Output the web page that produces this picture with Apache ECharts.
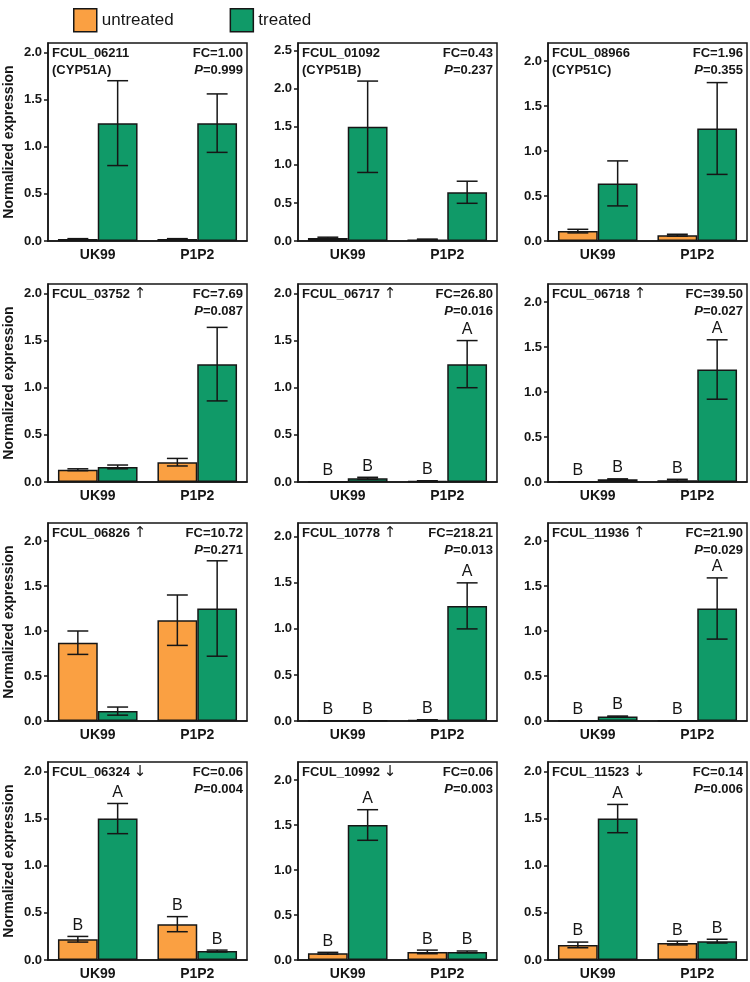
<!DOCTYPE html>
<html>
<head>
<meta charset="utf-8">
<script src="https://cdn.jsdelivr.net/npm/echarts@6/dist/echarts.min.js"></script>
<style>
html,body{margin:0;padding:0;background:#fff;}
#chart{width:750px;height:982px;}
</style>
</head>
<body>
<div id="chart"></div>
<script>
// ---------------- data ----------------
const categories = ['UK99', 'P1P2'];
const genes = ['FCUL_06211', 'FCUL_01092', 'FCUL_08966',
  'FCUL_03752', 'FCUL_06717', 'FCUL_06718',
  'FCUL_06826', 'FCUL_10778', 'FCUL_11936',
  'FCUL_06324', 'FCUL_10992', 'FCUL_11523'];
const geneArrows = ['', '', '', '\u2191', '\u2191', '\u2191', '\u2191', '\u2191', '\u2191', '\u2193', '\u2193', '\u2193'];
const geneNotes = ['(CYP51A)', '(CYP51B)', '(CYP51C)', '', '', '', '', '', '', '', '', ''];
const fcValues = ['1.00', '0.43', '1.96', '7.69', '26.80', '39.50', '10.72', '218.21', '21.90', '0.06', '0.06', '0.14'];
const pValues = ['0.999', '0.237', '0.355', '0.087', '0.016', '0.027', '0.271', '0.013', '0.029', '0.004', '0.003', '0.006'];
// [UK99, P1P2]
const untreatedMean = [[0.02, 0.02], [0.04, 0.02], [0.11, 0.065], [0.13, 0.21], [0.003, 0.01], [0.005, 0.02],
  [0.87, 1.12], [0.003, 0.01], [0.003, 0.004], [0.22, 0.38], [0.075, 0.09], [0.16, 0.18]];
const untreatedErr = [[0.005, 0.005], [0.01, 0.005], [0.02, 0.01], [0.01, 0.04], [0, 0.003], [0, 0.01],
  [0.13, 0.28], [0, 0.003], [0, 0], [0.03, 0.08], [0.01, 0.02], [0.03, 0.02]];
const treatedMean = [[1.25, 1.25], [1.5, 0.64], [0.64, 1.25], [0.16, 1.25], [0.04, 1.25], [0.03, 1.25],
  [0.11, 1.25], [0.004, 1.25], [0.05, 1.25], [1.5, 0.095], [1.5, 0.09], [1.5, 0.2]];
const treatedErr = [[0.45, 0.31], [0.6, 0.145], [0.25, 0.51], [0.02, 0.39], [0.01, 0.25], [0.005, 0.33],
  [0.045, 0.53], [0, 0.25], [0.005, 0.34], [0.16, 0.01], [0.17, 0.01], [0.15, 0.02]];
const untreatedLetters = [['', ''], ['', ''], ['', ''], ['', ''], ['B', 'B'], ['B', 'B'],
  ['', ''], ['B', 'B'], ['B', 'B'], ['B', 'B'], ['B', 'B'], ['B', 'B']];
const treatedLetters = [['', ''], ['', ''], ['', ''], ['', ''], ['B', 'A'], ['B', 'A'],
  ['', ''], ['B', 'A'], ['B', 'A'], ['A', 'B'], ['A', 'B'], ['A', 'B']];
const yMax = [2.1, 2.6, 2.2, 2.1, 2.1, 2.2, 2.2, 2.15, 2.2, 2.1, 2.2, 2.1];
const yTicksStd = [0, 0.5, 1.0, 1.5, 2.0];
const yTicksWide = [0, 0.5, 1.0, 1.5, 2.0, 2.5];
const yTicks = [yTicksStd, yTicksWide, yTicksStd, yTicksStd, yTicksStd, yTicksStd,
  yTicksStd, yTicksStd, yTicksStd, yTicksStd, yTicksStd, yTicksStd];
const yAxisTitle = 'Normalized expression';
const seriesNames = ['untreated', 'treated'];

// ---------------- layout / style ----------------
const ORANGE = '#FAA042';
const GREEN = '#109A68';
const INK = '#161616';
const FONT = '"Liberation Sans", Arial, Helvetica, sans-serif';
const colLeft = [48, 298, 548];
const rowTop = [43, 284, 523, 762];
const GW = 199, GH = 198;

const grids = [], xAxes = [], yAxes = [], series = [], graphics = [];

for (let p = 0; p < 12; p++) {
  const col = p % 3, row = Math.floor(p / 3);
  const L = colLeft[col], T = rowTop[row];
  grids.push({
    left: L, top: T, width: GW, height: GH,
    show: true, borderColor: INK, borderWidth: 1.5, backgroundColor: 'transparent'
  });
  xAxes.push({
    type: 'category', gridIndex: p, data: categories,
    axisLine: { show: true, lineStyle: { color: INK, width: 1.5 } },
    axisTick: { show: false },
    axisLabel: { color: INK, fontWeight: 'bold', fontSize: 14, fontFamily: FONT, margin: 7 },
    splitLine: { show: false }
  });
  yAxes.push({
    type: 'value', gridIndex: p, min: 0, max: yMax[p], interval: 0.5,
    name: col === 0 ? yAxisTitle : '',
    nameLocation: 'middle', nameGap: 32,
    nameTextStyle: { color: INK, fontWeight: 'bold', fontSize: 14, fontFamily: FONT },
    axisLine: { show: true, lineStyle: { color: INK, width: 1.5 } },
    axisTick: { show: true, inside: false, length: 4, lineStyle: { color: INK, width: 1.5 }, customValues: yTicks[p] },
    axisLabel: { color: INK, fontWeight: 'bold', fontSize: 13, fontFamily: FONT, margin: 6,
      customValues: yTicks[p], formatter: v => v.toFixed(1) },
    splitLine: { show: false }
  });
  const barStyle = (c) => ({ color: c, borderColor: INK, borderWidth: 1.5 });
  series.push({
    type: 'bar', name: seriesNames[0], xAxisIndex: p, yAxisIndex: p,
    data: untreatedMean[p], barGap: '0%', barCategoryGap: '20%',
    itemStyle: barStyle(ORANGE), emphasis: { disabled: true }, animation: false
  });
  series.push({
    type: 'bar', name: seriesNames[1], xAxisIndex: p, yAxisIndex: p,
    data: treatedMean[p], barGap: '0%', barCategoryGap: '20%',
    itemStyle: barStyle(GREEN), emphasis: { disabled: true }, animation: false
  });
  // error bars + letters
  const errData = [];
  for (let c = 0; c < 2; c++) {
    errData.push([c, untreatedMean[p][c], untreatedErr[p][c], 0, untreatedLetters[p][c]]);
    errData.push([c, treatedMean[p][c], treatedErr[p][c], 1, treatedLetters[p][c]]);
  }
  series.push({
    type: 'custom', xAxisIndex: p, yAxisIndex: p, z: 5, animation: false, silent: true,
    encode: { x: 0, y: 1 },
    data: errData,
    renderItem: function (params, api) {
      const d = errData[params.dataIndex];
      const cat = d[0], mean = d[1], err = d[2], grp = d[3], letter = d[4];
      const bandW = api.size([1, 0])[0];
      const c = api.coord([cat, mean]);
      const x = c[0] + (grp === 0 ? -0.2 : 0.2) * bandW;
      const cap = 0.105 * bandW;
      const children = [];
      let topY = c[1];
      if (err > 0) {
        const yTop = api.coord([cat, mean + err])[1];
        const yBot = api.coord([cat, Math.max(0, mean - err)])[1];
        topY = yTop;
        const ls = { stroke: INK, lineWidth: 1.5 };
        children.push({ type: 'line', shape: { x1: x, y1: yTop, x2: x, y2: yBot }, style: ls });
        children.push({ type: 'line', shape: { x1: x - cap, y1: yTop, x2: x + cap, y2: yTop }, style: ls });
        children.push({ type: 'line', shape: { x1: x - cap, y1: yBot, x2: x + cap, y2: yBot }, style: ls });
      }
      if (letter) {
        children.push({
          type: 'text',
          style: { text: letter, x: x, y: topY - 3, textAlign: 'center', align: 'center',
            textVerticalAlign: 'bottom', verticalAlign: 'bottom',
            font: '16px ' + FONT, fill: INK }
        });
      }
      return { type: 'group', children: children };
    }
  });
  // panel annotations
  const hFont = 'bold 13px ' + FONT;
  const geneText = geneArrows[p] ? genes[p] + ' {a|' + geneArrows[p] + '}' : genes[p];
  graphics.push({ type: 'text', x: L + 4, y: T + 10, silent: true,
    style: { text: geneText, font: hFont, fill: INK, textAlign: 'left', textVerticalAlign: 'middle', verticalAlign: 'middle',
      rich: { a: { fontFamily: '"DejaVu Sans", sans-serif', fontSize: 15, fontWeight: 'normal', fill: INK, color: INK } } } });
  if (geneNotes[p]) {
    graphics.push({ type: 'text', x: L + 4, y: T + 27, silent: true,
      style: { text: geneNotes[p], font: hFont, fill: INK, textAlign: 'left', textVerticalAlign: 'middle', verticalAlign: 'middle' } });
  }
  graphics.push({ type: 'text', x: L + GW - 4, y: T + 10, silent: true,
    style: { text: 'FC=' + fcValues[p], font: hFont, fill: INK, textAlign: 'right', align: 'right', textVerticalAlign: 'middle', verticalAlign: 'middle' } });
  graphics.push({ type: 'text', x: L + GW - 4, y: T + 27, silent: true,
    style: { text: '{i|P}=' + pValues[p], font: hFont, fill: INK, textAlign: 'right', align: 'right', textVerticalAlign: 'middle', verticalAlign: 'middle',
      rich: { i: { fontStyle: 'italic', fontWeight: 'bold', fontSize: 13, fontFamily: FONT, fill: INK, color: INK } } } });
}

const chart = echarts.init(document.getElementById('chart'), null, { renderer: 'canvas' });
chart.setOption({
  backgroundColor: '#ffffff',
  animation: false,
  legend: {
    data: seriesNames, left: 68, top: 3, itemWidth: 23, itemHeight: 23, itemGap: 56,
    icon: 'rect',
    textStyle: { color: INK, fontSize: 17, fontFamily: FONT },
    itemStyle: { borderColor: INK, borderWidth: 1.5 },
    selectedMode: false
  },
  grid: grids,
  xAxis: xAxes,
  yAxis: yAxes,
  series: series,
  graphic: graphics
});
</script>
</body>
</html>
